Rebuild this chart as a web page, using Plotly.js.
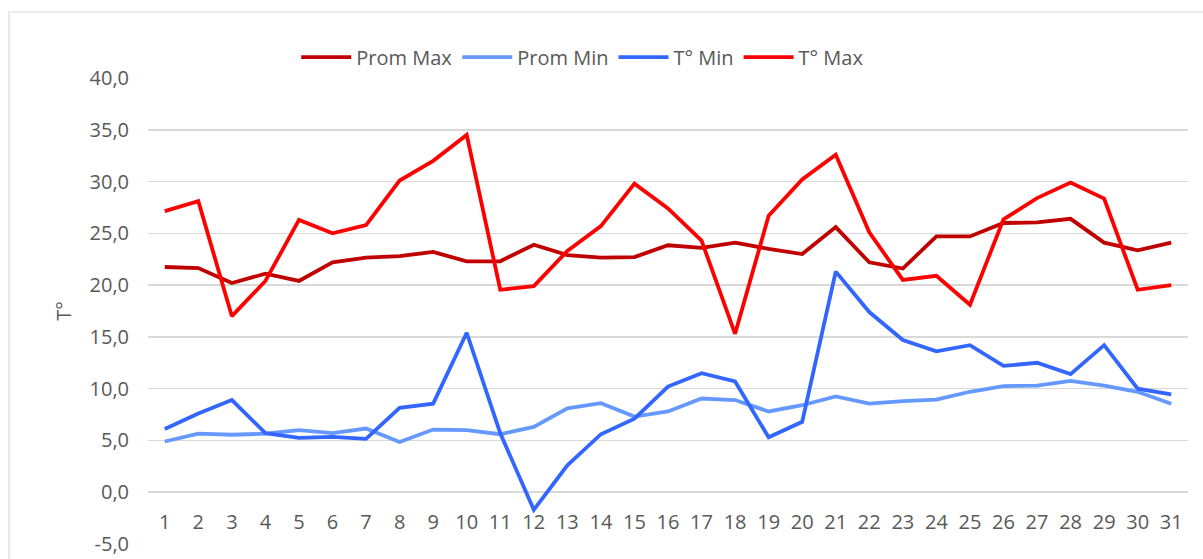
<!DOCTYPE html>
<html>
<head>
<meta charset="utf-8">
<script src="https://cdn.plot.ly/plotly-3.0.1.min.js"></script>
<style>html,body{margin:0;padding:0;background:#fff;}#chart{width:1203px;height:559px;}</style>
</head>
<body>
<div id="chart"></div>
<script>
const days = ["1","2","3","4","5","6","7","8","9","10","11","12","13","14","15","16","17","18","19","20","21","22","23","24","25","26","27","28","29","30","31"];
const promMax = [21.75,21.65,20.2,21.1,20.4,22.2,22.65,22.8,23.2,22.3,22.3,23.9,22.9,22.65,22.7,23.85,23.6,24.1,23.5,23.0,25.6,22.2,21.6,24.7,24.7,26.0,26.05,26.4,24.1,23.35,24.1];
const promMin = [4.9,5.65,5.55,5.65,6.0,5.7,6.15,4.85,6.05,6.0,5.6,6.3,8.1,8.6,7.3,7.8,9.05,8.9,7.8,8.4,9.25,8.55,8.8,8.95,9.7,10.25,10.3,10.75,10.3,9.7,8.55];
const tMin = [6.1,7.6,8.9,5.7,5.25,5.35,5.15,8.15,8.55,15.4,5.7,-1.7,2.6,5.6,7.1,10.2,11.5,10.7,5.3,6.8,21.3,17.4,14.7,13.6,14.2,12.2,12.5,11.4,14.2,10.0,9.45];
const tMax = [27.15,28.1,17.0,20.4,26.3,25.0,25.8,30.1,32.0,34.5,19.55,19.9,23.3,25.7,29.8,27.4,24.3,15.3,26.7,30.2,32.6,25.1,20.5,20.9,18.1,26.35,28.4,29.9,28.35,19.55,20.0];
const seriesNames = ["Prom Max","Prom Min","T° Min","T° Max"];
const seriesColors = ["#C00000","#6699FF","#3366FF","#FF0000"];
const yTicks = [-5,0,5,10,15,20,25,30,35,40];
const yTickLabels = ["-5,0","0,0","5,0","10,0","15,0","20,0","25,0","30,0","35,0","40,0"];

const allSeries = [promMax, promMin, tMin, tMax];
const traces = allSeries.map((vals, i) => ({
  x: days, y: vals, type: "scatter", mode: "lines", name: seriesNames[i],
  line: {color: seriesColors[i], width: 3.8, shape: "linear"},
  hoverinfo: "skip"
}));

const fontFam = "'Open Sans', sans-serif";
const layout = {
  width: 1203, height: 559,
  margin: {l: 148, r: 15, t: 78, b: 15},
  paper_bgcolor: "#ffffff", plot_bgcolor: "#ffffff",
  separators: ",.",
  font: {family: fontFam, size: 20, color: "#595959"},
  showlegend: true,
  legend: {orientation: "h", x: 0.418, xanchor: "center", y: 1.045, yanchor: "middle",
    font: {family: fontFam, size: 20, color: "#595959"}, itemwidth: 50, tracegroupgap: 0,
    bgcolor: "rgba(0,0,0,0)"},
  xaxis: {type: "category", range: [-0.5, 30.5], anchor: "free", position: 5/45, showgrid: false, zeroline: false,
    showline: false, ticks: "", ticklabelstandoff: 16,
    tickfont: {family: fontFam, size: 20, color: "#595959"}, fixedrange: true},
  yaxis: {range: [-5, 40], tickmode: "array", tickvals: yTicks, ticktext: yTickLabels, showgrid: true, gridcolor: "#d9d9d9",
    gridwidth: 1.5, zeroline: false, showline: false, ticks: "", ticklabelstandoff: 18,
    tickfont: {family: fontFam, size: 20, color: "#595959"},
    title: {text: "T°", standoff: 12, font: {family: fontFam, size: 20, color: "#595959"}}, fixedrange: true},
  shapes: [{type: "rect", xref: "paper", yref: "paper", x0: -0.1337, x1: 1.03, y0: -0.06, y1: 1.1416,
    line: {color: "#d9d9d9", width: 1.2}, fillcolor: "rgba(0,0,0,0)", layer: "below"}]
};
Plotly.newPlot("chart", traces, layout, {displayModeBar: false, staticPlot: true});
</script>
</body>
</html>
